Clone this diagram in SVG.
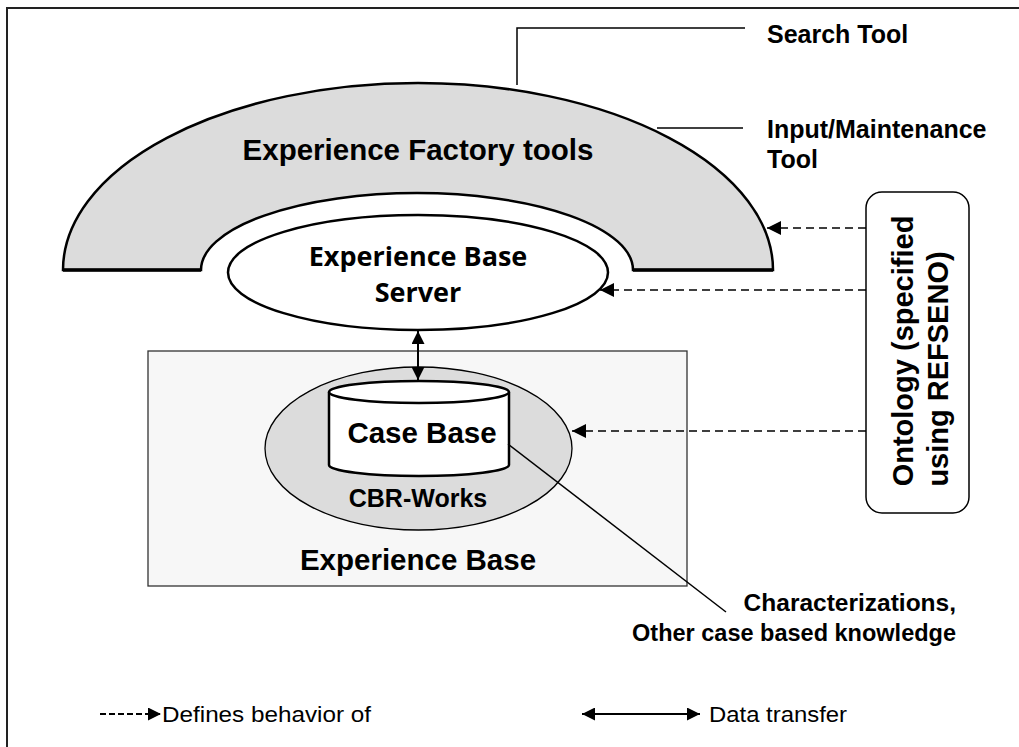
<svg xmlns="http://www.w3.org/2000/svg" width="1019" height="747" viewBox="0 0 1019 747">
<style>
.t{font-family:"Liberation Sans",Arial,sans-serif;font-weight:bold;fill:#000}
.s{font-family:"Open Sans","Liberation Sans",sans-serif;font-weight:bold;fill:#000}
.n{font-family:"Liberation Sans",Arial,sans-serif;font-weight:normal;fill:#000}
.dash{stroke:#000;stroke-width:1.4;stroke-dasharray:8 5;fill:none}
.ln{stroke:#000;stroke-width:1.5;fill:none}
</style>
<defs>
<marker id="ah" viewBox="0 0 10 10" refX="10" refY="5" markerWidth="15" markerHeight="14" orient="auto-start-reverse" markerUnits="userSpaceOnUse">
<path d="M0,0 L10,5 L0,10 Z" fill="#000"/>
</marker>
<marker id="ah2" viewBox="0 0 10 10" refX="10" refY="5" markerWidth="14" markerHeight="13" orient="auto-start-reverse" markerUnits="userSpaceOnUse">
<path d="M0,0 L10,5 L0,10 Z" fill="#000"/>
</marker>
</defs>
<rect width="1019" height="747" fill="#fff"/>
<path d="M7,760 V8 H1030" stroke="#222" stroke-width="2" fill="none"/>

<g id="experience-base">
<rect x="148" y="351" width="539" height="235" fill="#f7f7f7" stroke="#333" stroke-width="1.3"/>
<text class="t" x="418" y="570" font-size="29.5" text-anchor="middle">Experience Base</text>
</g>

<g id="ef-tools">
<path d="M63,270 A355,187 0 0 1 773,270 L633,270 A216,77 0 0 0 201,270 Z" fill="#dcdcdc" stroke="#000" stroke-width="2.5"/>
<path d="M63,270 H201 M633,270 H773" stroke="#000" stroke-width="3.5"/>
<text class="t" x="418" y="160" font-size="29.5" text-anchor="middle">Experience Factory tools</text>
</g>

<g id="eb-server">
<ellipse cx="418" cy="272.5" rx="190" ry="57.5" fill="#fff" stroke="#000" stroke-width="2.5"/>
<text class="s" x="418" y="266" font-size="27" text-anchor="middle">Experience Base</text>
<text class="s" x="418" y="302" font-size="27" text-anchor="middle">Server</text>
</g>

<g id="cbr-works">
<ellipse cx="418.5" cy="448.5" rx="153.5" ry="81.5" fill="#dcdcdc" stroke="#000" stroke-width="1.3"/>
<text class="t" x="418" y="507" font-size="25" text-anchor="middle" fill="#111">CBR-Works</text>
</g>

<g id="case-base">
<path d="M329,392 V465 A90,11 0 0 0 509,465 V392" fill="#fff" stroke="#000" stroke-width="2.5"/>
<ellipse cx="419" cy="392" rx="90" ry="11" fill="#fff" stroke="#000" stroke-width="2.5"/>
<text class="t" x="422" y="443" font-size="29.5" text-anchor="middle">Case Base</text>
</g>

<g id="search-tool">
<text class="t" x="767" y="43" font-size="25">Search Tool</text>
</g>
<g id="input-tool">
<text class="t" x="767" y="138" font-size="25">Input/Maintenance</text>
<text class="t" x="767" y="168" font-size="25">Tool</text>
</g>

<g id="ontology">
<rect x="866" y="192" width="103" height="321" rx="16" ry="16" fill="#fff" stroke="#000" stroke-width="1.5"/>
<text class="t" font-size="29" text-anchor="middle" transform="translate(913,351) rotate(-90)">Ontology (specified</text>
<text class="t" font-size="29" text-anchor="middle" transform="translate(948,369) rotate(-90)">using REFSENO)</text>
</g>

<g id="characterizations">
<text class="t" x="956" y="611" font-size="24.5" text-anchor="end">Characterizations,</text>
<text class="t" x="956" y="641" font-size="23.5" text-anchor="end">Other case based knowledge</text>
</g>

<g id="connectors">
<path class="ln" d="M517,85 V28 H745"/>
<path class="ln" d="M657,128 H743"/>
<path class="ln" d="M508,444 L726,612"/>
<path class="dash" d="M866,228 H767" marker-end="url(#ah)"/>
<path class="dash" d="M866,290 H600" marker-end="url(#ah)"/>
<path class="dash" d="M866,431 H572" marker-end="url(#ah)"/>
<path d="M418,331 V380" stroke="#000" stroke-width="2" fill="none" marker-start="url(#ah2)" marker-end="url(#ah2)"/>
</g>

<g id="legend">
<path d="M100,714 H161" stroke="#000" stroke-width="2" stroke-dasharray="6 3" fill="none" marker-end="url(#ah2)"/>
<text class="n" x="162" y="722" font-size="22" textLength="209" lengthAdjust="spacingAndGlyphs">Defines behavior of</text>
<path d="M582,714 H700" stroke="#000" stroke-width="2" fill="none" marker-start="url(#ah2)" marker-end="url(#ah2)"/>
<text class="n" x="709" y="722" font-size="22" textLength="138" lengthAdjust="spacingAndGlyphs">Data transfer</text>
</g>
</svg>
